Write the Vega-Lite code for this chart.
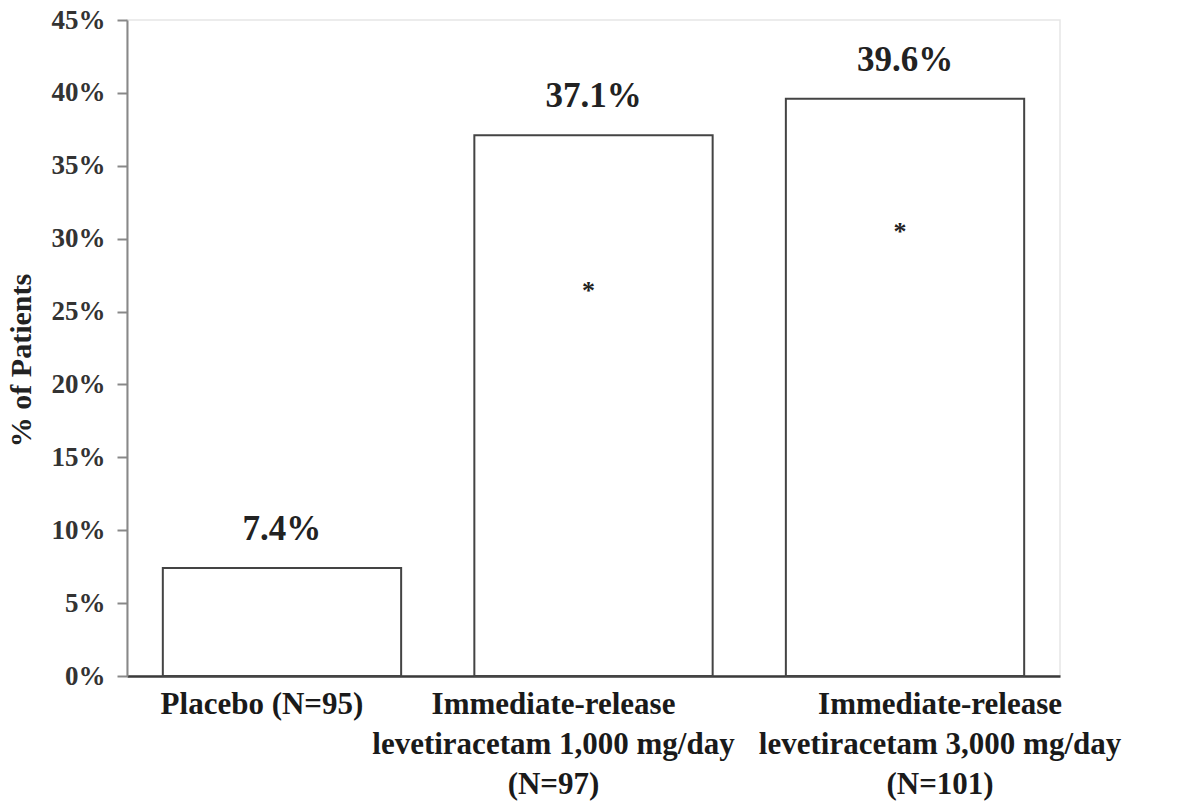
{
  "$schema": "https://vega.github.io/schema/vega-lite/v6.json",
  "autosize": "none",
  "padding": {"left": 127, "top": 20, "right": 126, "bottom": 129},
  "width": 933,
  "height": 656,
  "background": "white",
  "config": {
    "view": {"stroke": "#e6e6e6", "strokeWidth": 1.5},
    "font": "Liberation Serif"
  },
  "data": {
    "values": [
      {"group": "Placebo (N=95)", "pct": 0.074, "asterisk": null},
      {"group": "Immediate-release|levetiracetam 1,000 mg/day|(N=97)", "pct": 0.371, "asterisk": 0.268},
      {"group": "Immediate-release|levetiracetam 3,000 mg/day|(N=101)", "pct": 0.396, "asterisk": 0.309}
    ]
  },
  "encoding": {
    "x": {
      "field": "group",
      "type": "nominal",
      "sort": null,
      "scale": {"paddingInner": 0.235, "paddingOuter": 0.115},
      "axis": {
        "title": null,
        "labelExpr": "split(datum.label, '|')",
        "labelAngle": 0,
        "labelFont": "Liberation Serif",
        "labelFontWeight": "bold",
        "labelFontSize": 31,
        "labelLineHeight": 40,
        "labelColor": "#1a1a1a",
        "labelPadding": 13,
        "labelLimit": 0,
        "labelOverlap": false,
        "labelBound": false,
        "labelOffset": {
          "condition": [
            {"test": "indexof(datum.value, '1,000') >= 0", "value": -40},
            {"test": "indexof(datum.value, '3,000') >= 0", "value": 35}
          ],
          "value": -20
        },
        "ticks": false,
        "domainColor": "#3a3a3a",
        "domainWidth": 2.5
      }
    }
  },
  "layer": [
    {
      "mark": {"type": "bar", "fill": "white", "stroke": "#444444", "strokeWidth": 2},
      "encoding": {
        "y": {
          "field": "pct",
          "type": "quantitative",
          "scale": {"domain": [0, 0.45], "nice": false},
          "axis": {
            "title": "% of Patients",
            "values": [0, 0.05, 0.1, 0.15, 0.2, 0.25, 0.3, 0.35, 0.4, 0.45],
            "format": ".0%",
            "grid": false,
            "labelFont": "Liberation Serif",
            "labelFontWeight": "bold",
            "labelFontSize": 27,
            "labelColor": "#333333",
            "labelPadding": 12,
            "tickSize": 10,
            "tickColor": "#888888",
            "tickWidth": 2,
            "domainColor": "#888888",
            "domainWidth": 2,
            "titleFont": "Liberation Serif",
            "titleFontWeight": "bold",
            "titleFontSize": 30,
            "titleColor": "#222222",
            "titleX": -106,
            "titleY": 340,
            "titleAngle": -90,
            "titleAlign": "center",
            "titleBaseline": "middle"
          }
        }
      }
    },
    {
      "mark": {"type": "text", "font": "Liberation Serif", "fontWeight": "bold", "fontSize": 35, "baseline": "alphabetic", "dy": -28, "color": "#222222"},
      "encoding": {
        "y": {"field": "pct", "type": "quantitative"},
        "text": {"field": "pct", "type": "quantitative", "format": ".1%"}
      }
    },
    {
      "transform": [{"filter": "datum.asterisk != null"}],
      "mark": {"type": "text", "font": "Liberation Serif", "fontWeight": "bold", "fontSize": 26, "baseline": "alphabetic", "dy": 14, "dx": -5, "color": "#222222"},
      "encoding": {
        "y": {"field": "asterisk", "type": "quantitative"},
        "text": {"value": "*"}
      }
    }
  ]
}
